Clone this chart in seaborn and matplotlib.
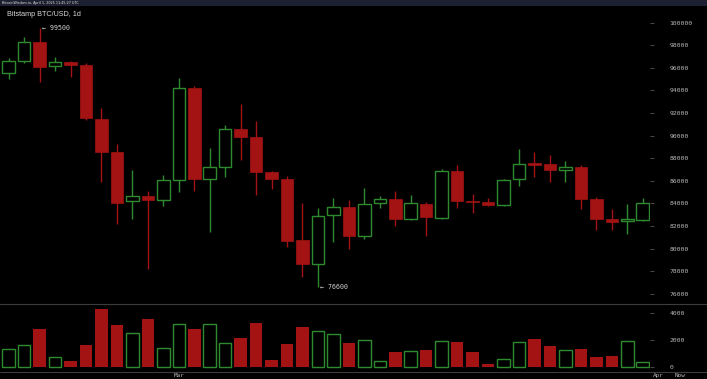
import numpy as np
import pandas as pd
import matplotlib
matplotlib.use("Agg")
import matplotlib.pyplot as plt
from matplotlib.lines import Line2D
from matplotlib.patches import Rectangle
import seaborn as sns

# daily candles, Feb 18 .. Mar 31 (2025)
opens = [95575, 96600, 98300, 96140, 96520, 96260, 91500, 88560, 84200, 84640,
         84340, 86050, 94250, 86200, 87260, 90590, 89890, 86790, 86170, 80740,
         78650, 82980, 83690, 81150, 84020, 84370, 82600, 83930, 82740, 86880,
         84200, 84130, 83870, 86140, 87520, 87470, 86990, 87200, 84370, 82630,
         82430, 82540]
highs = [96850, 98700, 99500, 96940, 96610, 96410, 92480, 89270, 86970, 85080,
         86520, 95130, 94400, 88940, 90950, 92800, 91270, 86900, 86460, 84040,
         83600, 84460, 84310, 85350, 84660, 85080, 84750, 84100, 87030, 87410,
         84840, 84460, 86170, 88800, 88530, 88290, 87740, 87430, 84580, 83510,
         83930, 84490]
lows = [95000, 96400, 94780, 95730, 95220, 91390, 85930, 82160, 82650, 78230,
        83800, 85020, 85080, 81500, 86370, 87850, 84750, 85260, 80120, 77470,
        76600, 80620, 79970, 80830, 83630, 82040, 82510, 81150, 82600, 83630,
        83190, 83750, 83800, 85580, 86370, 85930, 85880, 83540, 81650, 81630,
        81330, 82450]
closes = [96584, 98300, 96106, 96520, 96280, 91590, 88580, 84070, 84660, 84340,
          86050, 94250, 86200, 87260, 90590, 89910, 86790, 86200, 80710, 78650,
          82870, 83660, 81150, 83980, 84370, 82600, 84070, 82780, 86880, 84200,
          84150, 83890, 86080, 87520, 87490, 86940, 87230, 84400, 82630, 82390,
          82600, 84020]
volumes = [1355, 1626, 2798, 747, 476, 1648, 4286, 3114, 2549, 3553,
           1406, 3165, 2820, 3187, 1817, 2139, 3282, 549, 1722, 2967,
           2652, 2454, 1830, 1993, 454, 1158, 1187, 1282, 1919, 1868,
           1135, 278, 601, 1846, 2088, 1553, 1260, 1377, 747, 820,
           1919, 381]
price_ticks = list(range(76000, 100001, 2000))
volume_ticks = [0, 2000, 4000]

df = pd.DataFrame({"open": opens, "high": highs, "low": lows,
                   "close": closes, "volume": volumes})
df["up"] = df["close"] >= df["open"]

sns.set_style("dark", {"axes.facecolor": "black", "figure.facecolor": "black"})

RED = "#a31313"
GREEN = "#2f8a2f"
TXT = "#b8b8b8"
MONO = "DejaVu Sans Mono"

fig = plt.figure(figsize=(7.07, 3.79), dpi=100)
W, H = 707, 379

def fx(px):
    return px / W

def fy(py):
    return 1 - py / H

ax = fig.add_axes([0, fy(304), fx(650), fy(7) - fy(304)])
axv = fig.add_axes([0, fy(372), fx(650), fy(304) - fy(372)], sharex=ax)

bw = 0.81
min_body = 160
for i, r in df.iterrows():
    lo_b = min(r["open"], r["close"])
    hi_b = max(r["open"], r["close"])
    if hi_b - lo_b < min_body:
        mid = (hi_b + lo_b) / 2
        lo_b, hi_b = mid - min_body / 2, mid + min_body / 2
    if r["up"]:
        ax.vlines(i, hi_b, r["high"], color=GREEN, lw=1)
        ax.vlines(i, r["low"], lo_b, color=GREEN, lw=1)
        ax.add_patch(Rectangle((i - bw / 2, lo_b), bw, hi_b - lo_b,
                               facecolor="black", edgecolor=GREEN, lw=1))
        axv.bar(i, r["volume"], width=bw, facecolor="black",
                edgecolor=GREEN, lw=1)
    else:
        ax.vlines(i, r["low"], r["high"], color=RED, lw=1)
        ax.add_patch(Rectangle((i - bw / 2, lo_b), bw, hi_b - lo_b,
                               facecolor=RED, edgecolor=RED, lw=0.5))
        axv.bar(i, r["volume"], width=bw, color=RED, lw=0)

ax.set_xlim(-0.56, 41.47)
ax.set_ylim(75106, 101389)
axv.set_ylim(-330, 4652)

for a, ticks in ((ax, price_ticks), (axv, volume_ticks)):
    a.set_facecolor("black")
    a.grid(False)
    for s in a.spines.values():
        s.set_visible(False)
    a.yaxis.tick_right()
    a.set_yticks(ticks)
    a.set_yticklabels([str(t) for t in ticks], fontfamily=MONO)
    a.tick_params(axis="y", colors="#555555", labelcolor=TXT, labelsize=4.6,
                  length=3, width=0.6, pad=11, direction="out")
    a.tick_params(axis="x", bottom=False, labelbottom=False)

# max / min markers
imax = int(np.argmax(highs))
imin = int(np.argmin(lows))
ax.annotate("\u2190 %d" % highs[imax], (imax, highs[imax]), xytext=(1.5, 0),
            textcoords="offset points", va="center", ha="left",
            fontfamily=MONO, fontsize=4.8, color="#d0d0d0")
ax.annotate("\u2190 %d" % lows[imin], (imin, lows[imin]), xytext=(1.5, 0),
            textcoords="offset points", va="center", ha="left",
            fontfamily=MONO, fontsize=4.8, color="#d0d0d0")

# date labels
for xi, lab in ((11, "Mar"), (42, "Apr"), (43.4, "Now")):
    axv.text(xi, fy(375.5), lab,
             transform=matplotlib.transforms.blended_transform_factory(
                 axv.transData, fig.transFigure),
             ha="center", va="center", fontfamily=MONO, fontsize=4.3,
             color=TXT, clip_on=False)

# panel separators
for py in (304, 372):
    fig.add_artist(Line2D([0, 1], [fy(py), fy(py)], transform=fig.transFigure,
                          color="#3c3c3c", lw=0.8))

# header strip
fig.add_artist(Rectangle((0, fy(6)), 1, fy(0) - fy(6), transform=fig.transFigure,
                         facecolor="#1d2030", edgecolor="none"))
fig.text(fx(1.5), fy(3), "BitcoinWisdom.io, April 1, 2025 11:45:27 UTC",
         fontsize=2.4, color="#e0e0e0", va="center", ha="left")
fig.text(fx(7), fy(15), "Bitstamp BTC/USD, 1d", fontsize=5.2,
         fontfamily="Liberation Sans", color="#d8d8d8", va="center", ha="left")

fig.savefig("out.png", dpi=100, facecolor="black")
